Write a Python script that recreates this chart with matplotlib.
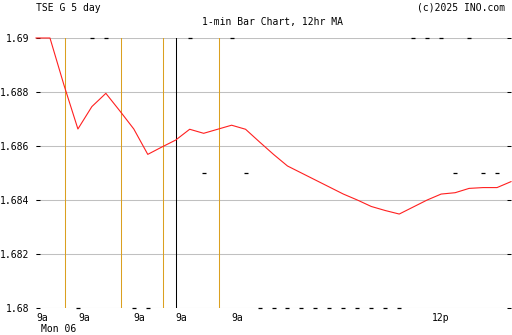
import matplotlib
matplotlib.use("Agg")
import matplotlib.pyplot as plt

# =======================
# Data
# =======================
ma_12hr = [1.6900, 1.6900, 1.68826, 1.68663, 1.68746, 1.68795, 1.68730, 1.68663,
           1.68569, 1.68596, 1.68622, 1.68662, 1.68647, 1.68662, 1.68677, 1.68662,
           1.68615, 1.68569, 1.68526, 1.68500, 1.68474, 1.68448, 1.68422, 1.68400,
           1.68376, 1.68361, 1.68348, 1.68374, 1.68400, 1.68422, 1.68427, 1.68443,
           1.68446, 1.68446, 1.68468]

bar_idx = [3, 4, 5, 7, 8, 11, 12, 14, 15, 16, 17, 18, 19, 20, 21, 22, 23, 24,
           25, 26, 27, 28, 29, 30, 31, 32, 33]
bar_price = [1.68, 1.69, 1.69, 1.68, 1.68, 1.69, 1.685, 1.69, 1.685, 1.68, 1.68,
             1.68, 1.68, 1.68, 1.68, 1.68, 1.68, 1.68, 1.68, 1.68, 1.69, 1.69,
             1.69, 1.685, 1.69, 1.685, 1.685]

session_breaks = [2.07, 6.07, 9.07, 13.07]
current_day = 10

yticks = [1.68, 1.682, 1.684, 1.686, 1.688, 1.69]
ytick_labels = ["1.68", "1.682", "1.684", "1.686", "1.688", "1.69"]
xlabel_pos = [0, 3, 7, 10, 14, 28.3]
xlabel_text = ["9a", "9a", "9a", "9a", "9a", "12p"]

MONO = "DejaVu Sans Mono"
FS = 7

# =======================
# Figure
# =======================
fig = plt.figure(figsize=(5.12, 3.35), dpi=100)
ax = fig.add_axes([36 / 512, 1 - 308 / 335, 475 / 512, 270 / 335])

ax.set_xlim(0, 34)
ax.set_ylim(1.68, 1.69)

for s in ax.spines.values():
    s.set_visible(False)

ax.set_yticks(yticks)
ax.set_yticklabels(ytick_labels, fontfamily=MONO, fontsize=FS)
ax.yaxis.grid(True, color="#c0c0c0", linewidth=0.75)
ax.set_axisbelow(True)
ax.tick_params(axis="y", direction="in", length=3, width=0.75, color="black",
               left=True, right=True, pad=5)

ax.set_xticks(xlabel_pos)
ax.set_xticklabels(xlabel_text, fontfamily=MONO, fontsize=FS, ha="left")
ax.tick_params(axis="x", length=0, pad=3.5)

for xb in session_breaks:
    ax.axvline(xb, color="#dba020", linewidth=0.75, zorder=1)
ax.axvline(current_day, color="black", linewidth=0.75, zorder=1)

ax.plot(range(len(ma_12hr)), ma_12hr, color="#ff2020", linewidth=0.8, zorder=3,
        clip_on=False)
ax.plot(bar_idx, bar_price, linestyle="none", marker="_", markersize=2.4,
        markeredgewidth=0.9, color="black", zorder=4, clip_on=False)

# =======================
# Texts
# =======================
fig.text(36 / 512, 1 - 8 / 335, "TSE G 5 day", fontfamily=MONO, fontsize=FS,
         ha="left", va="center")
fig.text(505 / 512, 1 - 8 / 335, "(c)2025 INO.com", fontfamily=MONO, fontsize=FS,
         ha="right", va="center")
fig.text(272 / 512, 1 - 21.5 / 335, "1-min Bar Chart, 12hr MA", fontfamily=MONO,
         fontsize=FS, ha="center", va="center")
fig.text(41 / 512, 1 - 328.5 / 335, "Mon 06", fontfamily=MONO, fontsize=FS,
         ha="left", va="center")

fig.savefig("out.png", dpi=100)
